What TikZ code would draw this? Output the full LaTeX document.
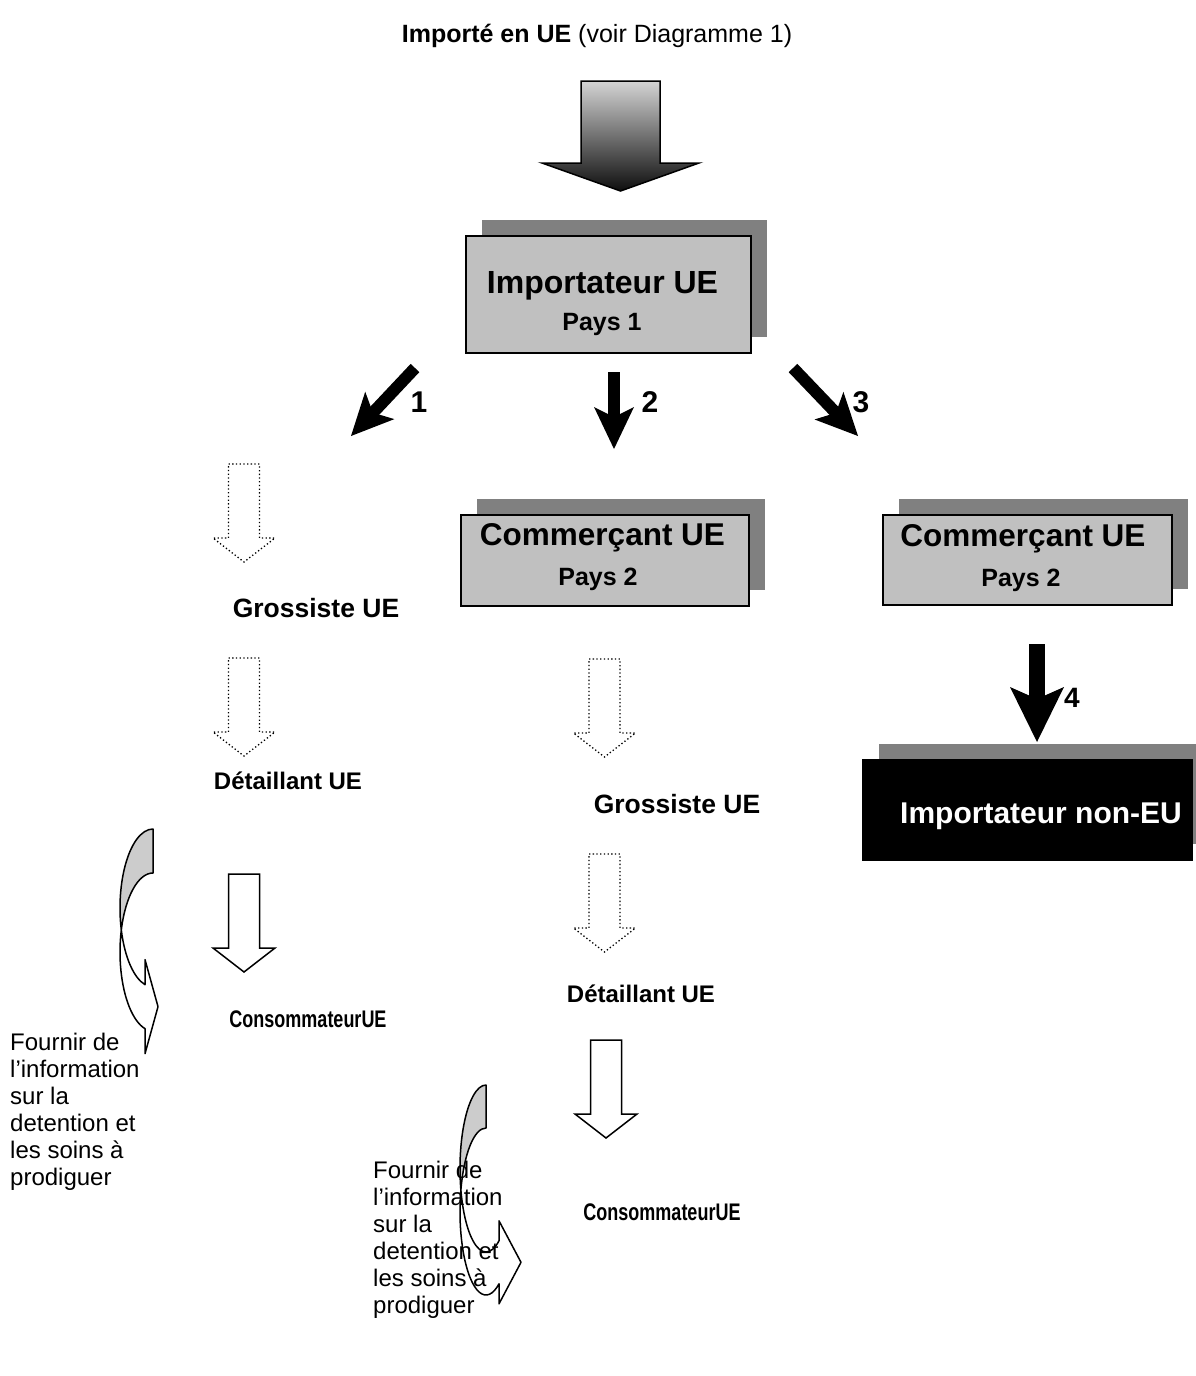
\documentclass[tikz,border=0pt]{standalone}
\usepackage{fontspec}
\setmainfont{Liberation Sans}
\usetikzlibrary{arrows.meta,shadows}
\definecolor{boxgray}{HTML}{C0C0C0}
\definecolor{shgray}{HTML}{808080}
\definecolor{lensgray}{HTML}{CCCCCC}
\definecolor{toplight}{HTML}{D4D4D4}
\definecolor{botdark}{HTML}{0E0E0E}
\newcommand\myfs[1]{\fontsize{#1}{#1}\selectfont}
% curved arrow: #1 tx, #2 ty, #3 rx, #4 ry, #5 band thickness, #6 end angle, #7 wing, #8 tip offset
\newcommand\mycurv[8]{%
  \pgfmathsetmacro\mcth{asin((#5/2)/#4)}%
  \pgfmathsetmacro\mccx{#1-#3*cos(\mcth)}%
  \pgfmathsetmacro\mccy{#2+#4+#5/2}%
  \pgfmathsetmacro\mcthA{180+\mcth}%
  \pgfmathsetmacro\mcthB{180-\mcth}%
  \pgfmathsetmacro\mchw{#5/2+#7}%
  \filldraw[fill=white, draw=black, line width=1.5pt, line join=round]
    (\mccx,\mccy) arc[start angle=\mcthA, end angle=#6, x radius=#3, y radius=#4]
    -- ++(0,#7) -- ++(#8,-\mchw) -- ++(-#8,-\mchw) -- ++(0,#7)
    arc[start angle=#6, end angle=\mcthB, x radius=#3, y radius=#4] -- cycle;
  \filldraw[fill=lensgray, draw=black, line width=1.5pt, line join=round]
    (#1,#2) arc[start angle=270, end angle=\mcthB, x radius=#3, y radius=#4]
    arc[start angle=\mcthA, end angle=270, x radius=#3, y radius=#4] -- cycle;
}
\begin{document}
\begin{tikzpicture}[x=1pt,y=-1pt,
  box/.style={draw=black, line width=1.5pt, fill=boxgray, inner sep=0pt,
    general shadow={fill=shgray, shadow xshift=16pt, shadow yshift=16pt}},
  blackbox/.style={draw=black, line width=1.5pt, fill=black, inner sep=0pt,
    general shadow={fill=shgray, shadow xshift=16pt, shadow yshift=16pt}},
  txt/.style={inner sep=0pt, anchor=base},
  txtl/.style={inner sep=0pt, anchor=base west},
  fatarrow/.style={line width=12pt, -{Stealth[length=42pt,width=40pt,inset=10pt,line width=0pt]}},
  fatarrowb/.style={line width=16pt, -{Stealth[length=55pt,width=54pt,inset=12pt,line width=0pt]}},
  downarr/.pic={\draw[pic actions] (-15.5,0) -- (15.5,0) -- (15.5,74) -- (31,74) -- (0,98)
      -- (-31,74) -- (-15.5,74) -- cycle;},
  dotarr/.style={draw=black, line width=1.3pt, dash pattern=on 1.3pt off 2.4pt},
  solarr/.style={draw=black, fill=white, line width=1.5pt}
]
\useasboundingbox (0,0) rectangle (1195,1376);

% title
\node[txt] (title) at (597,42) {\myfs{25}\textbf{Importé en UE} (voir Diagramme 1)};

% big shaded arrow
\shadedraw[top color=toplight, bottom color=botdark, draw=black, line width=1.5pt]
  (581,81) -- (660,81) -- (660,163) -- (699,163) -- (620.5,191) -- (542,163) -- (581,163) -- cycle;

% boxes
\node[box, minimum width=285pt, minimum height=117pt] (imp) at (608.5,294.5) {};
\node[txt] (impt) at (602.5,293) {\myfs{32}\bfseries Importateur UE};
\node[txt] (impp) at (602,330) {\myfs{25}\bfseries Pays 1};

\node[box, minimum width=288pt, minimum height=91pt] (com1) at (605,560.5) {};
\node[txt] (com1t) at (602.5,545) {\myfs{31.5}\bfseries Commerçant UE};
\node[txt] (com1p) at (598,585) {\myfs{25}\bfseries Pays 2};

\node[box, minimum width=289pt, minimum height=90pt] (com2) at (1027.5,560) {};
\node[txt] (com2t) at (1023,546) {\myfs{31.5}\bfseries Commerçant UE};
\node[txt] (com2p) at (1021,586) {\myfs{25}\bfseries Pays 2};

\node[blackbox, minimum width=329pt, minimum height=100pt] (nonue) at (1027.5,810) {};
\node[txt, text=white] (nonuet) at (1041,823) {\myfs{30}\bfseries Importateur non-EU};

% thick arrows
\coordinate (a1s) at (415,368); \coordinate (a1e) at (351,436);
\coordinate (a2s) at (614,372); \coordinate (a2e) at (614,449);
\coordinate (a3s) at (793,368); \coordinate (a3e) at (858,436);
\coordinate (a4s) at (1037,644); \coordinate (a4e) at (1037,742);
\draw[fatarrow] (a1s) -- (a1e);
\draw[fatarrow] (a2s) -- (a2e);
\draw[fatarrow] (a3s) -- (a3e);
\draw[fatarrowb] (a4s) -- (a4e);
\node[txt] (n1) at (419,412) {\myfs{30}\bfseries 1};
\node[txt] (n2) at (650,412) {\myfs{30}\bfseries 2};
\node[txt] (n3) at (861,412) {\myfs{30}\bfseries 3};
\node[txt] (n4) at (1072,707) {\myfs{28}\bfseries 4};

% left column
\pic[dotarr] at (244,464) {downarr};
\node[txt] (gros1) at (316,617) {\myfs{26.5}\bfseries Grossiste UE};
\pic[dotarr] at (244,658) {downarr};
\node[txt] (det1) at (288,789) {\myfs{24}\bfseries Détaillant UE};
\pic[solarr] at (244,874) {downarr};
\node[txt] (cons1) at (308,1027) {\myfs{24}\scalebox{0.75}[1]{\bfseries ConsommateurUE}};
\mycurv{153}{829}{33}{79}{44}{104}{25}{13}
\node[txtl] (f1a) at (10,1050) {\myfs{24}Fournir de};
\node[txtl] (f1b) at (10,1077) {\myfs{24}l’information};
\node[txtl] (f1c) at (10,1104) {\myfs{24}sur la};
\node[txtl] (f1d) at (10,1131) {\myfs{24}detention et};
\node[txtl] (f1e) at (10,1158) {\myfs{24}les soins à};
\node[txtl] (f1f) at (10,1185) {\myfs{24}prodiguer};

% middle column
\pic[dotarr] at (604.5,659) {downarr};
\node[txt] (gros2) at (677,813) {\myfs{26.5}\bfseries Grossiste UE};
\pic[dotarr] at (604.5,854) {downarr};
\node[txt] (det2) at (641,1002) {\myfs{24}\bfseries Détaillant UE};
\pic[solarr] at (606,1040) {downarr};
\node[txt] (cons2) at (662,1220) {\myfs{24}\scalebox{0.75}[1]{\bfseries ConsommateurUE}};
\mycurv{486}{1085}{26}{83.5}{43}{60}{20}{22}
\node[txtl] (f2a) at (373,1178) {\myfs{24}Fournir de};
\node[txtl] (f2b) at (373,1205) {\myfs{24}l’information};
\node[txtl] (f2c) at (373,1232) {\myfs{24}sur la};
\node[txtl] (f2d) at (373,1259) {\myfs{24}detention et};
\node[txtl] (f2e) at (373,1286) {\myfs{24}les soins à};
\node[txtl] (f2f) at (373,1313) {\myfs{24}prodiguer};
\end{tikzpicture}
\end{document}
